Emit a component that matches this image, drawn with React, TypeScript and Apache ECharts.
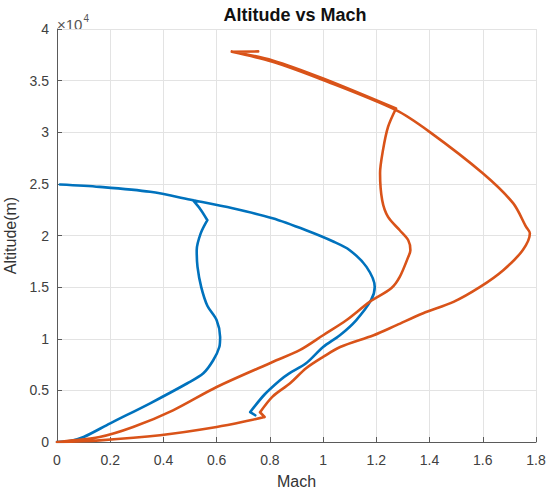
import React, { useEffect, useRef } from "react";
import * as echarts from "echarts";

const chartTitle = "Altitude vs Mach";
const xAxisName = "Mach";
const yAxisName = "Altitude(m)";
const xTicks = [0, 0.2, 0.4, 0.6, 0.8, 1, 1.2, 1.4, 1.6, 1.8];
const yTickLabels = ["0", "0.5", "1", "1.5", "2", "2.5", "3", "3.5", "4"];

// ---- Blue trajectory (Mach, altitude in m), split at sharp corners ----
const blueClimbMach = [0, 0.05, 0.1, 0.2, 0.35, 0.49, 0.55, 0.587, 0.61, 0.613, 0.6, 0.565, 0.542, 0.528, 0.525, 0.54, 0.565];
const blueClimbAlt = [0, 100, 480, 1810, 3750, 5690, 6660, 7920, 9200, 10170, 11790, 13200, 15000, 16960, 18580, 20200, 21480];
const blueTurnMach = [0.565, 0.54, 0.511];
const blueTurnAlt = [21480, 22500, 23420];
const blueFallMach = [0.011, 0.16, 0.35, 0.511, 0.66, 0.81, 0.936, 1.04, 1.1, 1.163, 1.194, 1.18, 1.124, 1.063, 1.0, 0.936, 0.87, 0.838, 0.78, 0.726];
const blueFallAlt = [24940, 24710, 24230, 23420, 22640, 21670, 20510, 19400, 18580, 16960, 15020, 13730, 11790, 10340, 9200, 7620, 6600, 5980, 4600, 2900];
const blueTailMach = [0.726, 0.745];
const blueTailAlt = [2900, 2590];

// ---- Orange trajectory (Mach, altitude in m), split at sharp corners ----
const orangeLaunchMach = [0, 0.16, 0.387, 0.6, 0.726, 0.78];
const orangeLaunchAlt = [0, 160, 650, 1450, 2100, 2420];
const orangeKinkMach = [0.78, 0.763];
const orangeKinkAlt = [2420, 2880];
const orangeClimbMach = [0.763, 0.81, 0.876, 0.936, 1.0, 1.064, 1.19, 1.276, 1.376, 1.49, 1.59, 1.677, 1.75, 1.777, 1.763, 1.714, 1.6, 1.4, 1.274, 1.0, 0.81, 0.657];
const orangeClimbAlt = [2880, 4400, 5690, 7140, 8240, 9200, 10340, 11320, 12470, 13570, 15020, 16640, 18580, 20220, 20830, 23130, 26030, 30040, 32140, 35050, 36820, 37790];
const orangeApexMach = [0.657, 0.756];
const orangeApexAlt = [37790, 37830];
const orangeReturnMach = [0.657, 0.81, 1.0, 1.274];
const orangeReturnAlt = [37830, 36960, 35210, 32300];
const orangeDescentMach = [1.274, 1.244, 1.225, 1.214, 1.222, 1.244, 1.288, 1.32, 1.328, 1.32, 1.288, 1.256, 1.175, 1.087, 1.0, 0.912, 0.81, 0.6, 0.436, 0.286, 0.16, 0.036, 0];
const orangeDescentAlt = [32300, 30520, 28270, 26030, 23420, 21800, 20510, 19540, 18580, 17930, 15990, 14890, 13570, 11790, 10340, 8890, 7750, 5330, 3070, 1450, 480, 100, 0];

const FONT = 'Arial, "Liberation Sans", Helvetica, sans-serif';

function joinSegments(segs: [number[], number[]][]) {
  const out: (number | string)[][] = [];
  segs.forEach(([mx, al], si) => {
    if (si > 0) out.push(["-", "-"]);
    mx.forEach((m, i) => out.push([m, al[i]]));
  });
  return out;
}

export default function App() {
  const ref = useRef<HTMLDivElement>(null);
  useEffect(() => {
    if (!ref.current) return;
    const chart = echarts.init(ref.current, undefined, { renderer: "svg" });
    const blueData = joinSegments([
      [blueClimbMach, blueClimbAlt],
      [blueTurnMach, blueTurnAlt],
      [blueFallMach, blueFallAlt],
      [blueTailMach, blueTailAlt],
    ]);
    const orangeData = joinSegments([
      [orangeLaunchMach, orangeLaunchAlt],
      [orangeKinkMach, orangeKinkAlt],
      [orangeClimbMach, orangeClimbAlt],
      [orangeApexMach, orangeApexAlt],
      [orangeReturnMach, orangeReturnAlt],
      [orangeDescentMach, orangeDescentAlt],
    ]);
    chart.setOption({
      animation: false,
      backgroundColor: "#ffffff",
      textStyle: { fontFamily: FONT },
      grid: { left: 57, right: 10, top: 29, bottom: 50, containLabel: false, outerBoundsMode: "none" },
      graphic: [
        {
          type: "text",
          x: 295,
          y: 6,
          style: { text: chartTitle, font: `bold 18px ${FONT}`, fill: "#111", align: "center" },
        },
        {
          type: "text",
          x: 57,
          y: 13,
          style: {
            text: "{a|×10}{b|4}",
            rich: {
              a: { fontSize: 15, fontFamily: FONT, fill: "#555", verticalAlign: "bottom" },
              b: { fontSize: 10, fontFamily: FONT, fill: "#555", padding: [0, 0, 9, 1] },
            },
          },
        },
      ],
      xAxis: {
        type: "value",
        min: 0,
        max: 1.8,
        interval: 0.2,
        name: xAxisName,
        nameLocation: "middle",
        nameGap: 31,
        nameTextStyle: { fontSize: 16, color: "#333", fontFamily: FONT },
        axisLine: { show: true, onZero: false, lineStyle: { color: "#5a5a5a", width: 1 } },
        axisTick: { show: true, inside: true, length: 5, lineStyle: { color: "#5a5a5a" } },
        axisLabel: {
          margin: 11,
          fontSize: 14,
          color: "#404040",
          fontFamily: FONT,
          formatter: (v: number) => {
            const idx = xTicks.findIndex((t) => Math.abs(t - v) < 1e-6);
            return idx >= 0 ? String(xTicks[idx]) : "";
          },
        },
        splitLine: { show: true, lineStyle: { color: "#e3e3e3", width: 1 } },
      },
      yAxis: {
        type: "value",
        min: 0,
        max: 40000,
        interval: 5000,
        name: yAxisName,
        nameLocation: "middle",
        nameGap: 38,
        nameTextStyle: { fontSize: 16, color: "#333", fontFamily: FONT },
        axisLine: { show: true, onZero: false, lineStyle: { color: "#5a5a5a", width: 1 } },
        axisTick: { show: true, inside: true, length: 5, lineStyle: { color: "#5a5a5a" } },
        axisLabel: {
          margin: 8,
          fontSize: 14,
          color: "#404040",
          fontFamily: FONT,
          formatter: (v: number) => {
            const idx = Math.round(v / 5000);
            return yTickLabels[idx] ?? "";
          },
        },
        splitLine: { show: true, lineStyle: { color: "#e3e3e3", width: 1 } },
      },
      series: [
        {
          type: "line",
          data: blueData,
          showSymbol: false,
          symbol: "none",
          smooth: 0.3,
          connectNulls: false,
          lineStyle: { color: "#0072BD", width: 2.6, join: "round", cap: "round" },
          itemStyle: { color: "#0072BD" },
        },
        {
          type: "line",
          data: orangeData,
          showSymbol: false,
          symbol: "none",
          smooth: 0.3,
          connectNulls: false,
          lineStyle: { color: "#D95319", width: 2.6, join: "round", cap: "round" },
          itemStyle: { color: "#D95319" },
        },
      ],
    });
    return () => chart.dispose();
  }, []);
  return (
    <div
      ref={ref}
      style={{ position: "fixed", left: 0, top: 0, width: 546, height: 492, background: "#fff" }}
    />
  );
}
